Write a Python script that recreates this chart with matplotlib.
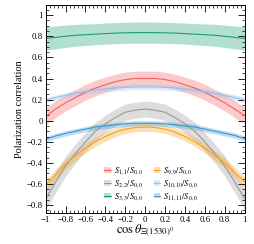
import numpy as np
import matplotlib
matplotlib.use("Agg")
import matplotlib.pyplot as plt
from matplotlib.patches import Patch
from matplotlib.lines import Line2D
from matplotlib.ticker import MultipleLocator, AutoMinorLocator, FuncFormatter

plt.rcParams['font.family'] = ['Liberation Serif', 'DejaVu Serif']
plt.rcParams['mathtext.fontset'] = 'stix'

# cos(theta) grid the values were read at
cos_theta = [-1.0, -0.9, -0.8, -0.7, -0.6, -0.5, -0.4, -0.3, -0.2, -0.1, 0.0,
             0.1, 0.2, 0.3, 0.4, 0.5, 0.6, 0.7, 0.8, 0.9, 1.0]

s11 = [0.04, 0.11, 0.17, 0.22, 0.27, 0.31, 0.34, 0.37, 0.39, 0.40, 0.40,
       0.40, 0.39, 0.37, 0.34, 0.31, 0.27, 0.22, 0.17, 0.11, 0.05]
s11_err = [0.08, 0.08, 0.078, 0.076, 0.075, 0.074, 0.072, 0.071, 0.07, 0.07, 0.07,
           0.07, 0.07, 0.071, 0.072, 0.074, 0.075, 0.076, 0.078, 0.08, 0.08]

s22 = [-0.74, -0.58, -0.43, -0.31, -0.20, -0.10, -0.03, 0.03, 0.08, 0.10, 0.11,
       0.10, 0.08, 0.03, -0.03, -0.10, -0.20, -0.31, -0.43, -0.58, -0.74]
s22_err = [0.10, 0.10, 0.095, 0.09, 0.088, 0.085, 0.082, 0.08, 0.078, 0.076, 0.075,
           0.076, 0.078, 0.08, 0.082, 0.085, 0.088, 0.09, 0.095, 0.10, 0.10]

s33 = [0.78, 0.79, 0.80, 0.81, 0.815, 0.82, 0.826, 0.83, 0.833, 0.835, 0.835,
       0.835, 0.833, 0.83, 0.826, 0.82, 0.815, 0.81, 0.80, 0.79, 0.78]
s33_err = [0.11, 0.108, 0.106, 0.104, 0.102, 0.10, 0.10, 0.10, 0.10, 0.10, 0.10,
           0.10, 0.10, 0.10, 0.10, 0.10, 0.102, 0.104, 0.106, 0.108, 0.11]

s99 = [-0.61, -0.51, -0.41, -0.33, -0.26, -0.20, -0.15, -0.11, -0.08, -0.065, -0.06,
       -0.065, -0.08, -0.11, -0.15, -0.20, -0.26, -0.33, -0.40, -0.49, -0.58]
s99_err = [0.05, 0.05, 0.048, 0.046, 0.045, 0.044, 0.043, 0.042, 0.041, 0.04, 0.04,
           0.04, 0.041, 0.042, 0.043, 0.044, 0.045, 0.046, 0.048, 0.05, 0.05]

s1010 = [0.195, 0.22, 0.24, 0.26, 0.275, 0.29, 0.30, 0.31, 0.315, 0.32, 0.32,
         0.32, 0.315, 0.31, 0.30, 0.29, 0.275, 0.26, 0.24, 0.22, 0.195]
s1010_err = [0.025] * 21

s1111 = [-0.175, -0.145, -0.12, -0.10, -0.08, -0.06, -0.05, -0.04, -0.03, -0.025, -0.025,
         -0.025, -0.03, -0.04, -0.05, -0.06, -0.08, -0.10, -0.12, -0.14, -0.17]
s1111_err = [0.025] * 21

labels = [r'$S_{1,1}/S_{0,0}$', r'$S_{2,2}/S_{0,0}$', r'$S_{3,3}/S_{0,0}$',
          r'$S_{9,9}/S_{0,0}$', r'$S_{10,10}/S_{0,0}$', r'$S_{11,11}/S_{0,0}$']
colors = ['#f2625f', '#9a9a9a', '#17a06e', '#f5a21f', '#8fc3ee', '#3a98d2']

series = [(s11, s11_err), (s22, s22_err), (s33, s33_err),
          (s99, s99_err), (s1010, s1010_err), (s1111, s1111_err)]

fig = plt.figure(figsize=(2.54, 2.44), dpi=100)
ax = fig.add_axes([0.18, 0.128, 0.783, 0.852])

x = np.array(cos_theta)
handles = []
for (y, e), c, lab in zip(series, colors, labels):
    y = np.array(y)
    e = np.array(e)
    ax.fill_between(x, y - e, y + e, color=c, alpha=0.33, lw=0)
    ax.plot(x, y, color=c, lw=0.8)
    handles.append((Patch(facecolor=c, alpha=0.33, lw=0), Line2D([], [], color=c, lw=0.8)))

def fmt(v, pos):
    s = '%g' % round(v, 2)
    return s.replace('-', '\u2212')

ax.set_xlim(-1, 1)
ax.set_ylim(-0.873, 1.098)
ax.xaxis.set_major_locator(MultipleLocator(0.2))
ax.yaxis.set_major_locator(MultipleLocator(0.2))
ax.xaxis.set_minor_locator(AutoMinorLocator(5))
ax.yaxis.set_minor_locator(AutoMinorLocator(4))
ax.xaxis.set_major_formatter(FuncFormatter(fmt))
ax.yaxis.set_major_formatter(FuncFormatter(fmt))
ax.tick_params(which='both', direction='in', top=True, right=True, labelsize=6.3, pad=2)
ax.tick_params(which='major', length=5, width=0.6)
ax.tick_params(which='minor', length=2.5, width=0.5)
for sp in ax.spines.values():
    sp.set_linewidth(0.7)

ax.set_ylabel('Polarization correlation', fontsize=7.5, labelpad=2)
ax.set_xlabel(r'$\cos\theta_{\Xi(1530)^0}$', fontsize=9, labelpad=-1)

ax.legend(handles, labels, ncol=2, loc='lower left', bbox_to_anchor=(0.27, 0.025),
          frameon=False, fontsize=6, handlelength=0.8, handletextpad=0.3,
          columnspacing=1.3, labelspacing=0.15, borderaxespad=0.2)

fig.savefig('out.png', dpi=100)
